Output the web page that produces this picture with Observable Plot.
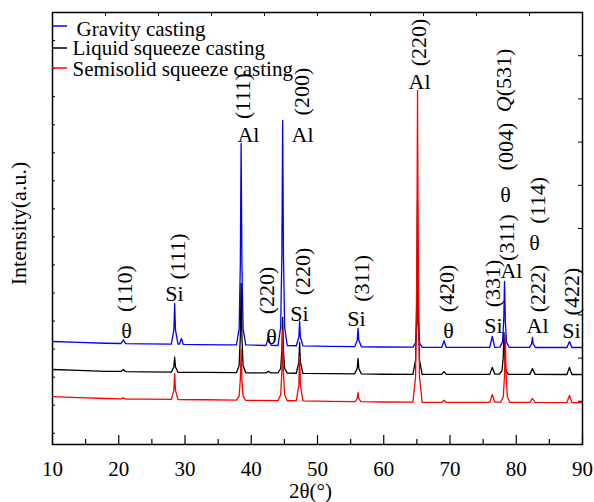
<!DOCTYPE html>
<html><head><meta charset="utf-8">
<script src="https://cdn.jsdelivr.net/npm/d3@7"></script>
<script src="https://cdn.jsdelivr.net/npm/@observablehq/plot@0.6"></script>
<style>body{margin:0;background:#fff} svg text{font-family:"Liberation Serif","Times New Roman","Nimbus Roman","Nimbus Roman No9 L",FreeSerif,"Noto Serif","DejaVu Serif",Tinos,Times,serif !important;}</style>
</head><body><div id="chart"></div>
<script>
const seriesNames = ["Gravity casting", "Liquid squeeze casting", "Semisolid squeeze casting"];
const seriesColors = ["#0000ff", "#000000", "#ff0000"];

// [2θ, intensity (a.u.)]
const gravity = [
  [10,3272],[14,3240],[18,3210],[20.35,3200],[20.7,3330],[21.05,3195],[24,3190],
  [27.94,3180],[28.32,3690],[28.44,4630],[28.56,3690],[28.94,3180],
  [29.15,3175],[29.45,3380],[29.75,3170],[32,3160],[36,3150],
  [37.77,3150],[38.17,3724],[38.35,6022],[38.47,10330],[38.59,6022],[38.77,3724],[39.17,3150],
  [42.2,3130],[42.6,3400],[43.0,3135],
  [44.04,3130],[44.44,3772],[44.62,6338],[44.74,11150],[44.86,6338],[45.04,3772],[45.44,3125],
  [46.8,3120],[47.18,3425],[47.3,3990],[47.42,3425],[47.8,3115],[52,3100],
  [55.62,3090],[56.0,3318],[56.12,3740],[56.24,3318],[56.62,3085],[60,3075],
  [64.4,3070],[64.8,3224],[64.98,3842],[65.1,5000],[65.22,3842],[65.4,3224],[65.8,3065],
  [68.75,3060],[69.1,3300],[69.45,3060],
  [76.0,3060],[76.38,3450],[76.75,3065],
  [77.53,3070],[77.93,3257],[78.11,4006],[78.23,5410],[78.35,4006],[78.53,3257],[78.93,3065],
  [82.0,3060],[82.32,3186],[82.44,3420],[82.56,3186],[82.9,3058],
  [87.65,3058],[88.03,3270],[88.4,3058],[90,3058]
];
const liquid = [
  [10,2274],[14,2240],[18,2210],[20.35,2205],[20.7,2270],[21.05,2200],[24,2190],
  [27.94,2180],[28.32,2366],[28.44,2710],[28.56,2366],[28.94,2175],[33,2170],
  [37.77,2160],[38.17,2414],[38.35,3432],[38.47,5340],[38.59,3432],[38.77,2414],[39.17,2155],
  [42.25,2150],[42.6,2210],[42.95,2150],
  [44.04,2150],[44.44,2308],[44.62,2942],[44.74,4130],[44.86,2942],[45.04,2308],[45.44,2145],
  [46.8,2140],[47.18,2525],[47.3,3240],[47.42,2525],[47.8,2135],[52,2125],
  [55.62,2120],[56.0,2313],[56.12,2670],[56.24,2313],[56.62,2115],[60,2105],
  [64.4,2100],[64.8,2596],[64.98,4580],[65.1,8300],[65.22,4580],[65.4,2596],[65.8,2100],
  [68.75,2100],[69.1,2200],[69.45,2100],
  [76.0,2100],[76.38,2350],[76.75,2110],
  [77.45,2110],[77.85,2228],[78.03,2702],[78.15,3590],[78.27,2702],[78.45,2228],[78.85,2100],
  [82.05,2100],[82.44,2310],[82.85,2100],
  [87.65,2095],[88.03,2350],[88.4,2095],[90,2095]
];
const semisolid = [
  [10,1310],[14,1270],[18,1240],[20.35,1225],[20.7,1265],[21.05,1220],[24,1215],
  [27.94,1210],[28.32,1532],[28.44,2130],[28.56,1532],[28.94,1205],[33,1195],
  [37.77,1180],[38.17,1326],[38.35,1908],[38.47,3000],[38.59,1908],[38.77,1326],[39.17,1175],
  [44.04,1165],[44.44,1365],[44.62,2163],[44.74,3660],[44.86,2163],[45.04,1365],[45.44,1160],
  [46.8,1160],[47.18,1717],[47.3,2750],[47.42,1717],[47.8,1155],[52,1140],
  [55.7,1130],[56.0,1240],[56.12,1450],[56.24,1240],[56.55,1130],[60,1115],
  [64.4,1110],[64.8,1999],[64.98,5554],[65.1,12220],[65.22,5554],[65.4,1999],[65.8,1105],
  [68.75,1105],[69.1,1175],[69.45,1100],
  [76.0,1100],[76.38,1380],[76.75,1110],
  [77.65,1110],[78.05,1300],[78.23,2062],[78.35,3490],[78.47,2062],[78.65,1300],[79.05,1100],
  [82.05,1100],[82.44,1240],[82.85,1100],
  [87.65,1095],[88.03,1350],[88.4,1095],[90,1095]
];
const seriesData = [gravity, liquid, semisolid];

const xTicks = [10, 20, 30, 40, 50, 60, 70, 80, 90];
const xMinorTicks = [15, 25, 35, 45, 55, 65, 75, 85];
const xTopTicks = [18, 26, 34, 42, 50, 58, 66, 74, 82];
const yLeftTicks = [0,1000,2000,3000,4000,5000,6000,7000,8000,9000,10000,11000,12000,13000,14000];
const yRightTicks = [1140,2680,4220,5760,7300,8840,10380,11920,13460];

// rotated Miller-index labels: [2θ, intensity, text]
const hklLabels = [
  [20.87,5160,"(110)"],[28.9,6300,"(111)"],[38.75,12020,"(111)"],[47.58,12180,"(200)"],
  [42.3,5090,"(220)"],[47.74,5770,"(220)"],[56.64,5520,"(311)"],[65.25,13930,"(220)"],
  [69.47,5160,"(420)"],[76.42,5340,"(331)"],[78.53,6980,"(311)"],[78.38,10220,"(004)"],
  [78.08,12580,"Q(531)"],[83.21,5160,"(222)"],[83.21,8300,"(114)"],[88.34,5050,"(422)"]
];
// upright phase labels (baseline): [2θ, intensity, text]
const phaseLabels = [
  [21.17,3380,"θ"],[28.42,4730,"Si"],[39.58,10400,"Al"],[43.06,3200,"θ"],[47.74,10400,"Al"],
  [47.28,3985,"Si"],[55.89,3810,"Si"],[65.4,12290,"Al"],[69.77,3380,"θ"],[76.57,3590,"Si"],
  [79.28,5550,"Al"],[83.21,3560,"Al"],[88.34,3380,"Si"],[78.38,8230,"θ"],[82.75,6520,"θ"]
];

const serif = "Liberation Serif, Times New Roman, serif";
const T = {fontFamily: serif, fill: "#000"};
const svg = Plot.plot({
  width: 594, height: 502,
  marginLeft: 52, marginRight: 12, marginTop: 12, marginBottom: 58,
  x: {domain: [10, 90], axis: null},
  y: {domain: [-400, 15000], axis: null},
  style: {background: "#fff", color: "#000"},
  marks: [
    ...seriesData.map((s, i) => Plot.line(s, {x: d => d[0], y: d => d[1], stroke: seriesColors[i], strokeWidth: 1.3})),
    Plot.frame({stroke: "#000", strokeWidth: 1.5}),
    Plot.tickX(xTicks, {x: d => d, insetTop: 423, stroke: "#000", strokeWidth: 1.2}),
    Plot.tickX(xMinorTicks, {x: d => d, insetTop: 427, stroke: "#000", strokeWidth: 1.2}),
    Plot.tickX(xTopTicks, {x: d => d, insetBottom: 428, stroke: "#000", strokeWidth: 1}),
    Plot.tickY(yLeftTicks, {y: d => d, insetRight: 527, stroke: "#000", strokeWidth: 1}),
    Plot.tickY(yRightTicks, {y: d => d, insetLeft: 526, stroke: "#000", strokeWidth: 1}),
    Plot.text(xTicks, {...T, x: d => d, text: d => String(d), frameAnchor: "bottom", dy: 31, lineAnchor: "bottom", fontSize: 21}),
    Plot.text(["2θ(°)"], {...T, text: d => d, frameAnchor: "bottom", dx: -7, dy: 53, lineAnchor: "bottom", fontSize: 21}),
    Plot.text(["Intensity(a.u.)"], {...T, text: d => d, frameAnchor: "left", rotate: -90, dx: -34, dy: -5, lineAnchor: "middle", textAnchor: "middle", fontSize: 22}),
    Plot.text(hklLabels, {...T, x: d => d[0], y: d => d[1], text: d => d[2], rotate: -90, textAnchor: "middle", lineAnchor: "middle", fontSize: 22}),
    Plot.text(phaseLabels, {...T, x: d => d[0], y: d => d[1], text: d => d[2], textAnchor: "middle", lineAnchor: "bottom", fontSize: 22}),
    Plot.text([seriesNames[0]], {...T, text: d => d, frameAnchor: "top-left", dx: 24, dy: 23, lineAnchor: "bottom", textAnchor: "start", fontSize: 21}),
    Plot.text([seriesNames[1]], {...T, text: d => d, frameAnchor: "top-left", dx: 20, dy: 42, lineAnchor: "bottom", textAnchor: "start", fontSize: 21}),
    Plot.text([seriesNames[2]], {...T, text: d => d, frameAnchor: "top-left", dx: 20, dy: 63, lineAnchor: "bottom", textAnchor: "start", fontSize: 21})
  ]
});
document.getElementById("chart").append(svg);

// legend swatches
const legendY = [26, 48, 68];
seriesColors.forEach((c, i) => {
  d3.select(svg).append("line").attr("x1", 52).attr("x2", 67)
    .attr("y1", legendY[i]).attr("y2", legendY[i]).attr("stroke", c).attr("stroke-width", 1.5);
});
// italic Q
d3.select(svg).selectAll("text").filter(function() { return this.textContent === "Q(531)"; })
  .each(function() {
    const t = d3.select(this); t.text("");
    t.append("tspan").attr("font-style", "italic").text("Q");
    t.append("tspan").text("(531)");
  });
</script>
</body></html>
